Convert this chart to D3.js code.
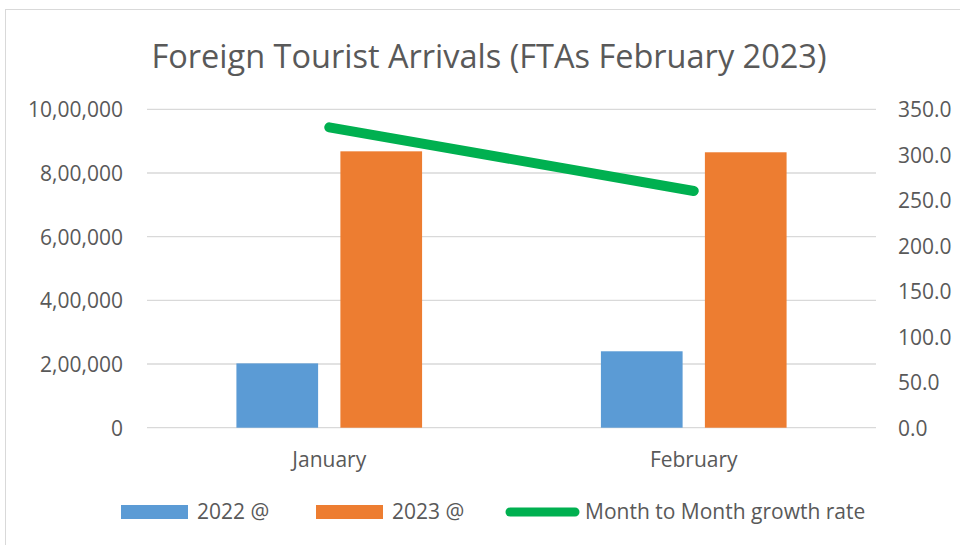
<!DOCTYPE html>
<html>
<head>
<meta charset="utf-8">
<script src="https://cdn.jsdelivr.net/npm/d3@7"></script>
<style>
  body { margin: 0; background: #fff; }
  text { font-family: "Open Sans", sans-serif; fill: #595959; }
</style>
</head>
<body>
<script>
const WIDTH = 960;
const HEIGHT = 545;

// data
const months = ['January', 'February'];
const seriesNames = ['2022 @', '2023 @'];
const arrivals2022 = [202000, 240000];
const arrivals2023 = [868000, 865000];
const growthRate = [330.2, 260.2];
const leftTicks = [0, 200000, 400000, 600000, 800000, 1000000];
const rightTicks = [0, 50, 100, 150, 200, 250, 300, 350];
const colors = ['#5B9BD5', '#ED7D31'];
const lineColor = '#00B050';

const plot = { left: 147, right: 876, top: 109.3, bottom: 427.7 };

// indian style grouping: 10,00,000
function inr(n) {
  let s = String(Math.round(n));
  if (s.length <= 3) return s;
  let last3 = s.slice(-3);
  let rest = s.slice(0, -3);
  rest = rest.replace(/\B(?=(\d{2})+(?!\d))/g, ',');
  return rest + ',' + last3;
}

let svg = d3.select('body').append('svg')
  .attr('width', WIDTH)
  .attr('height', HEIGHT);

// chart border
svg.append('rect')
  .attr('x', 5.5).attr('y', 9.5)
  .attr('width', 970).attr('height', 560)
  .attr('fill', 'white')
  .attr('stroke', '#D9D9D9');

svg.append('text')
  .attr('x', 489).attr('y', 68)
  .attr('text-anchor', 'middle')
  .style('font-size', '32.5px')
  .text('Foreign Tourist Arrivals (FTAs February 2023)');

let x0 = d3.scaleBand().domain(months).range([plot.left, plot.right]);
let x1 = d3.scaleBand().domain(seriesNames)
  .range([0, x0.bandwidth()])
  .paddingInner(0.2144)
  .paddingOuter(0.86);

let yL = d3.scaleLinear().domain([0, 1000000]).range([plot.bottom, plot.top]);
let yR = d3.scaleLinear().domain([0, 350]).range([plot.bottom, plot.top]);

// gridlines
svg.append('g').selectAll('line')
  .data(leftTicks)
  .join('line')
  .attr('x1', plot.left).attr('x2', plot.right)
  .attr('y1', d => yL(d)).attr('y2', d => yL(d))
  .attr('stroke', '#D9D9D9')
  .attr('stroke-width', 1.3);

// left axis
let axL = svg.append('g')
  .attr('transform', `translate(${plot.left - 24},0)`)
  .call(d3.axisLeft(yL).tickValues(leftTicks).tickFormat(inr).tickSize(0).tickPadding(0));
axL.select('.domain').remove();
axL.selectAll('text').style('font-size', '21px').attr('fill', '#595959').attr('dy', '0.35em');

// right axis
let axR = svg.append('g')
  .attr('transform', `translate(${plot.right + 22},0)`)
  .call(d3.axisRight(yR).tickValues(rightTicks).tickFormat(d3.format('.1f')).tickSize(0).tickPadding(0));
axR.select('.domain').remove();
axR.selectAll('text').style('font-size', '21px').attr('fill', '#595959').attr('dy', '0.35em');

// category axis
let axB = svg.append('g')
  .attr('transform', `translate(0,${plot.bottom + 24})`)
  .call(d3.axisBottom(x0).tickSize(0).tickPadding(0));
axB.select('.domain').remove();
axB.selectAll('text').style('font-size', '21px').attr('fill', '#595959').attr('dy', '0.71em');

// bars
const rows = months.map((m, i) => ({ month: m, vals: [arrivals2022[i], arrivals2023[i]] }));
svg.append('g').selectAll('g')
  .data(rows)
  .join('g')
  .attr('transform', d => `translate(${x0(d.month)},0)`)
  .selectAll('rect')
  .data(d => d.vals.map((v, j) => ({ name: seriesNames[j], v: v, j: j })))
  .join('rect')
  .attr('x', d => x1(d.name))
  .attr('width', x1.bandwidth())
  .attr('y', d => yL(d.v))
  .attr('height', d => yL(0) - yL(d.v))
  .attr('fill', d => colors[d.j]);

// growth line
let line = d3.line()
  .x((d, i) => x0(months[i]) + x0.bandwidth() / 2)
  .y(d => yR(d));

svg.append('path')
  .datum(growthRate)
  .attr('d', line)
  .attr('fill', 'none')
  .attr('stroke', lineColor)
  .attr('stroke-width', 10)
  .attr('stroke-linecap', 'round');

// legend
let lg = svg.append('g');
const legY = 512;
const swatchX = [121, 316];
seriesNames.forEach((name, j) => {
  lg.append('rect')
    .attr('x', swatchX[j]).attr('y', legY - 7)
    .attr('width', 67).attr('height', 14)
    .attr('fill', colors[j]);
  lg.append('text')
    .attr('x', swatchX[j] + 76).attr('y', legY)
    .attr('dy', '0.35em')
    .style('font-size', '21px')
    .text(name);
});
lg.append('line')
  .attr('x1', 510).attr('x2', 575)
  .attr('y1', legY).attr('y2', legY)
  .attr('stroke', lineColor)
  .attr('stroke-width', 9)
  .attr('stroke-linecap', 'round');
lg.append('text')
  .attr('x', 585).attr('y', legY)
  .attr('dy', '0.35em')
  .style('font-size', '21px')
  .text('Month to Month growth rate');
</script>
</body>
</html>
